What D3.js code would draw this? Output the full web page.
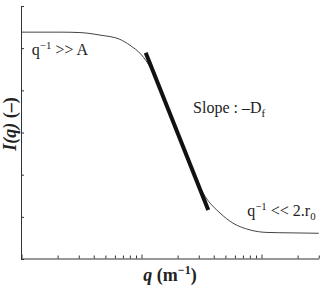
<!DOCTYPE html>
<html>
<head>
<meta charset="utf-8">
<script src="https://cdn.jsdelivr.net/npm/d3@7"></script>
<style>
  body { margin: 0; background: #fff; }
  text { font-family: "Liberation Serif", "DejaVu Serif", serif; fill: #222; }
</style>
</head>
<body>
<div id="chart"></div>
<script>
// scattering curve (q in 1/m, intensity arbitrary)
const qValues = [1e6, 2.09e6, 3.07e6, 4.51e6, 6.6e6, 8.0e6, 1e7, 1.19e7, 1.44e7, 1.74e7,
                 1.98e7, 2.3e7, 2.79e7, 3.38e7, 4.51e7, 5.79e7, 8.0e7, 1.11e8, 1.73e8, 3e8];
const intensity = [5.38, 5.38, 5.37, 5.31, 5.21, 5.07, 4.84, 4.53, 4.01, 3.41,
                   3.01, 2.51, 1.94, 1.49, 1.09, 0.85, 0.69, 0.63, 0.62, 0.61];
// thick tangent line (slope -Df)
const slopeQ = [1.084e7, 3.6e7];
const slopeI = [4.89, 1.16];
const yTicks = [0, 1, 2, 3, 4, 5, 6];
const xMajorTicks = [1e6, 1e7, 1e8];
const xDomain = [1e6, 3e8];
const yDomain = [0, 6];

const W = 322, H = 290;
const margin = {top: 6, left: 21.5, bottom: 31};
const decade = 120; // px per decade
const x = d3.scaleLog()
    .domain(xDomain)
    .range([margin.left, margin.left + decade * Math.log10(xDomain[1] / xDomain[0])]);
const y = d3.scaleLinear()
    .domain(yDomain)
    .range([H - margin.bottom, margin.top]);

const svg = d3.select("#chart").append("svg")
    .attr("width", W)
    .attr("height", H);

// minor log ticks 2..9 in every decade
const xMinorTicks = x.ticks().filter(d => !xMajorTicks.includes(d));

svg.append("g")
    .attr("transform", `translate(0, ${y(0) - 0.5})`)
    .call(d3.axisBottom(x).tickValues(xMinorTicks).tickSize(-3).tickSizeOuter(0).tickFormat(""))
    .call(g => g.selectAll("line, path").attr("stroke", "#333"));
svg.append("g")
    .attr("transform", `translate(0, ${y(0) - 0.5})`)
    .call(d3.axisBottom(x).tickValues(xMajorTicks).tickSize(-4).tickSizeOuter(0).tickFormat(""))
    .call(g => g.select(".domain").remove())
    .call(g => g.selectAll("line").attr("stroke", "#333"));

svg.append("g")
    .attr("transform", `translate(${margin.left - 0.5}, 0)`)
    .call(d3.axisLeft(y).tickValues(yTicks).tickSize(-3).tickSizeOuter(0).tickFormat(""))
    .call(g => g.selectAll("line, path").attr("stroke", "#333"));

// the curve
const curvePts = qValues.map((q, i) => [q, intensity[i]]);
svg.append("path")
    .datum(curvePts)
    .attr("fill", "none")
    .attr("stroke", "#444")
    .attr("stroke-width", 1)
    .attr("d", d3.line().x(d => x(d[0])).y(d => y(d[1])).curve(d3.curveMonotoneX));

// tangent
svg.append("path")
    .datum(slopeQ.map((q, i) => [q, slopeI[i]]))
    .attr("fill", "none")
    .attr("stroke", "#111")
    .attr("stroke-width", 4)
    .attr("d", d3.line().x(d => x(d[0])).y(d => y(d[1])));

// annotations
function label(q, v, parts, size) {
  const t = svg.append("text")
      .attr("x", x(q))
      .attr("y", y(v))
      .attr("font-size", size);
  parts.forEach(p => {
    const s = t.append("tspan").text(p.t);
    if (p.sup) s.attr("font-size", size * 0.68).attr("dy", -6);
    if (p.sub) s.attr("font-size", size * 0.68).attr("dy", 4);
    if (p.back) s.attr("dy", p.back);
  });
  return t;
}
label(1.22e6, 4.84, [{t: "q"}, {t: "\u22121", sup: true}, {t: " >> A", back: 6}], 16);
label(2.69e7, 3.455, [{t: "Slope : \u2013D"}, {t: "f", sub: true}], 16);
label(7.6e7, 1.02, [{t: "q"}, {t: "\u22121", sup: true}, {t: " << 2.r", back: 6}, {t: "0", sub: true}], 16);

// axis titles
const xt = svg.append("text")
    .attr("x", 170)
    .attr("y", 281)
    .attr("text-anchor", "middle")
    .attr("font-size", 18)
    .attr("font-weight", "bold");
xt.append("tspan").attr("font-style", "italic").text("q");
xt.append("tspan").text(" (m");
xt.append("tspan").attr("font-size", 12).attr("dy", -7).text("\u22121");
xt.append("tspan").attr("dy", 7).text(")");

const yt = svg.append("text")
    .attr("transform", `translate(16, 124) rotate(-90)`)
    .attr("text-anchor", "middle")
    .attr("font-size", 18)
    .attr("font-weight", "bold");
yt.append("tspan").attr("font-style", "italic").text("I(q)");
yt.append("tspan").text(" (\u2013)");
</script>
</body>
</html>
